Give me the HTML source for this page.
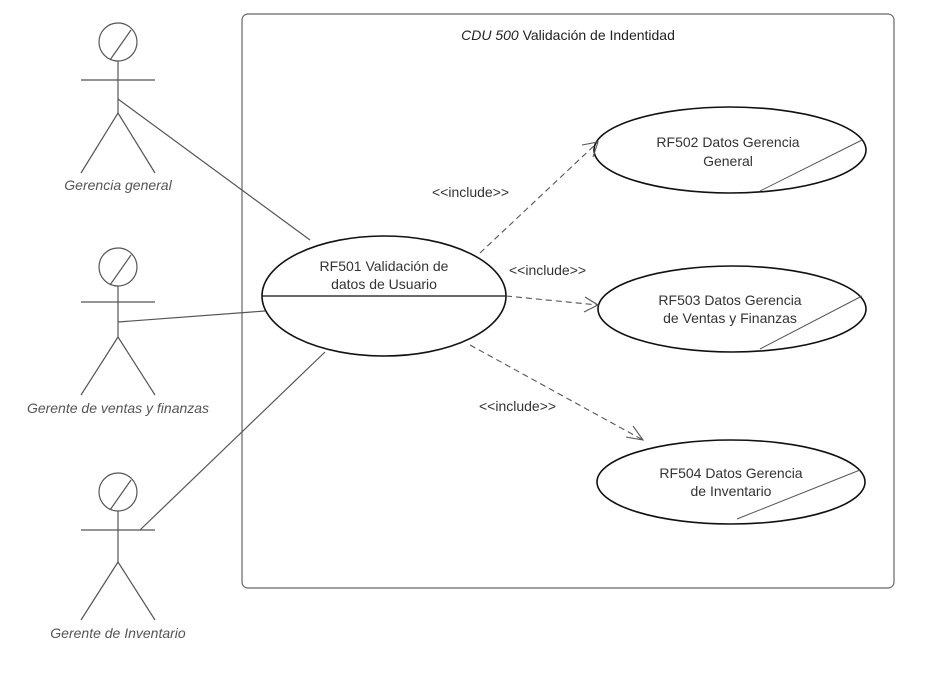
<!DOCTYPE html>
<html><head><meta charset="utf-8"><style>
html,body{margin:0;padding:0;background:#fff;}
svg text{font-family:"Liberation Sans",sans-serif;}
</style></head><body>
<svg width="935" height="674" viewBox="0 0 935 674" xmlns="http://www.w3.org/2000/svg">
<rect x="242" y="14" width="652" height="574" rx="6" fill="none" stroke="#666" stroke-width="1.2"/>
<text x="568" y="40" text-anchor="middle" font-size="14" fill="#222"><tspan font-style="italic">CDU 500</tspan> Validación de Indentidad</text>

<g stroke="#555" stroke-width="1.2" fill="none">
  <!-- actor 1 -->
  <circle cx="118" cy="42" r="19"/><line x1="110" y1="60" x2="131" y2="30"/>
  <line x1="118" y1="61" x2="118" y2="113"/><line x1="81" y1="80" x2="155" y2="80"/>
  <line x1="118" y1="113" x2="81" y2="173"/><line x1="118" y1="113" x2="155" y2="173"/>
  <!-- actor 2 -->
  <circle cx="118" cy="267" r="19"/><line x1="110" y1="285" x2="131" y2="255"/>
  <line x1="118" y1="286" x2="118" y2="337"/><line x1="81" y1="302" x2="155" y2="302"/>
  <line x1="118" y1="337" x2="81" y2="395"/><line x1="118" y1="337" x2="155" y2="395"/>
  <!-- actor 3 -->
  <circle cx="118" cy="492" r="19"/><line x1="110" y1="510" x2="131" y2="480"/>
  <line x1="118" y1="511" x2="118" y2="562"/><line x1="81" y1="530" x2="155" y2="530"/>
  <line x1="118" y1="562" x2="81" y2="620"/><line x1="118" y1="562" x2="155" y2="620"/>
  <!-- associations -->
  <line x1="118" y1="99" x2="310" y2="240"/>
  <line x1="118" y1="322" x2="265" y2="311"/>
  <line x1="140" y1="530" x2="325" y2="352"/>
</g>
<g font-style="italic" font-size="14" fill="#555" text-anchor="middle">
<text x="118" y="190">Gerencia general</text>
<text x="118" y="413">Gerente de ventas y finanzas</text>
<text x="118" y="638">Gerente de Inventario</text>
</g>

<!-- main use case -->
<ellipse cx="384" cy="296" rx="122" ry="60" fill="#fff" stroke="#111" stroke-width="1.6"/>
<line x1="262" y1="296" x2="506" y2="296" stroke="#111" stroke-width="1.2"/>
<text x="384" y="271" text-anchor="middle" font-size="14" fill="#333">RF501 Validación de</text>
<text x="384" y="289" text-anchor="middle" font-size="14" fill="#333">datos de Usuario</text>

<!-- included -->
<g stroke="#111" stroke-width="1.6" fill="#fff">
<ellipse cx="730" cy="150" rx="136" ry="43"/>
<ellipse cx="732" cy="309" rx="134" ry="43"/>
<ellipse cx="731" cy="482" rx="134" ry="42"/>
</g>
<g stroke="#555" stroke-width="1">
<line x1="862" y1="140" x2="760" y2="191"/>
<line x1="862" y1="296" x2="760" y2="349"/>
<line x1="860" y1="470" x2="737" y2="519"/>
</g>
<g font-size="14" fill="#333" text-anchor="middle">
<text x="728" y="147">RF502 Datos Gerencia</text>
<text x="728" y="166">General</text>
<text x="730" y="305">RF503 Datos Gerencia</text>
<text x="730" y="323">de Ventas y Finanzas</text>
<text x="731" y="478">RF504 Datos Gerencia</text>
<text x="731" y="496">de Inventario</text>
</g>

<!-- include arrows -->
<g stroke="#555" stroke-width="1.1" fill="none" stroke-dasharray="6,4">
<line x1="480" y1="253" x2="598" y2="142"/>
<line x1="506" y1="296" x2="598" y2="305"/>
<line x1="470" y1="345" x2="643" y2="440"/>
</g>
<g stroke="#555" stroke-width="1.1" fill="none">
<polyline points="582,145 598,142 593,157"/>
<polyline points="585,297 598,305 584,312"/>
<polyline points="626,437 643,440 633,426"/>
</g>
<g font-size="14" fill="#333">
<text x="432" y="197">&lt;&lt;include&gt;&gt;</text>
<text x="509" y="275">&lt;&lt;include&gt;&gt;</text>
<text x="479" y="411">&lt;&lt;include&gt;&gt;</text>
</g>
</svg>
</body></html>
